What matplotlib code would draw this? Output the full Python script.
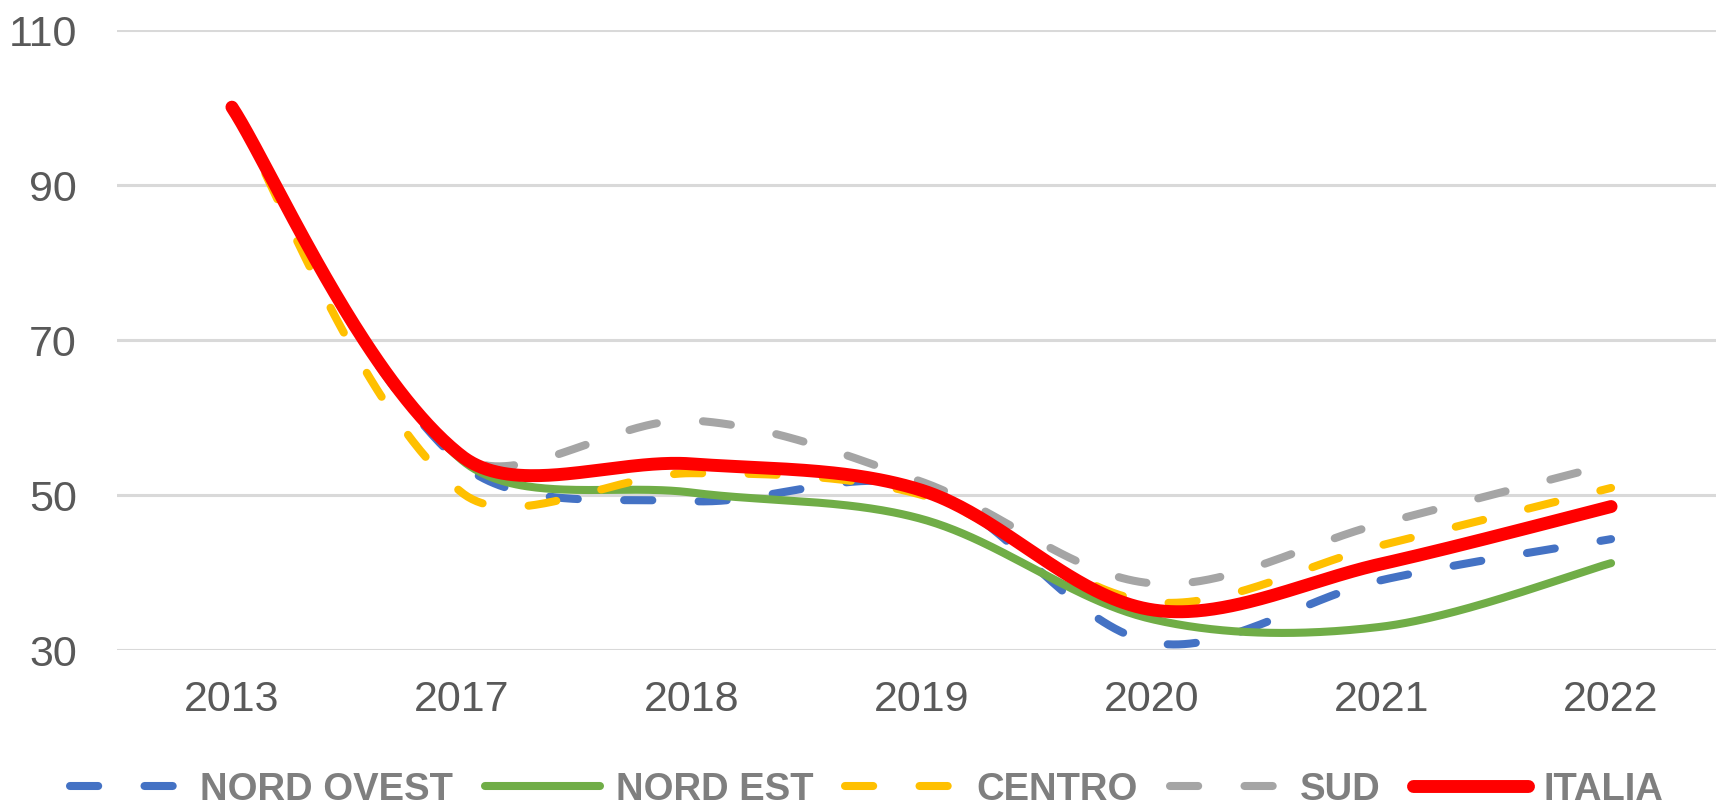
import numpy as np
import matplotlib
matplotlib.use("Agg")
import matplotlib.pyplot as plt

# ---- data ----
years = ["2013", "2017", "2018", "2019", "2020", "2021", "2022"]
nord_ovest = [100, 54.0, 49.2, 51.0, 31.0, 39.0, 44.3]
nord_est = [100, 54.5, 50.3, 46.9, 34.0, 33.0, 41.2]
centro = [100, 50.3, 52.8, 50.0, 36.2, 43.5, 50.9]
sud = [100, 55.0, 59.6, 51.7, 38.6, 46.3, 54.0]
italia = [100, 55.0, 54.0, 50.6, 35.2, 41.1, 48.5]

labels = ["NORD OVEST", "NORD EST", "CENTRO", "SUD", "ITALIA"]
colors = ["#4472C4", "#70AD47", "#FFC000", "#A5A5A5", "#FF0000"]
series = [nord_ovest, nord_est, centro, sud, italia]
dashed = [True, False, True, True, False]

W, H, DPI = 1716, 812, 100
fig = plt.figure(figsize=(W / DPI, H / DPI), dpi=DPI)
ax_left, ax_right = 117, 1726
ax_top, ax_bot = 30.6, 651
ax = fig.add_axes([ax_left / W, (H - ax_bot) / H, (ax_right - ax_left) / W, (ax_bot - ax_top) / H])

ymin, ymax = 30, 110
ax.set_xlim(-0.5, len(years) - 0.5)
ax.set_ylim(ymin, ymax)

# pixel scale for screen-space smoothing
sx = (ax_right - ax_left) / len(years)
sy = (ax_bot - ax_top) / (ymax - ymin)


def smooth(xv, yv, n=80):
    P = np.column_stack([np.asarray(xv, float) * sx, np.asarray(yv, float) * sy])
    m = len(P)
    out = []
    t = np.linspace(0, 1, n)[:, None]
    for i in range(m - 1):
        p1, p2 = P[i], P[i + 1]
        d12 = np.linalg.norm(p2 - p1)
        if i > 0:
            p0 = P[i - 1]
            d01 = np.linalg.norm(p1 - p0)
            c1 = p1 + (p2 - p0) * (1 / 3) * d12 / (d01 + d12)
        else:
            c1 = p1 + (p2 - p1) / 6
        if i < m - 2:
            p3 = P[i + 2]
            d23 = np.linalg.norm(p3 - p2)
            c2 = p2 - (p3 - p1) * (1 / 3) * d12 / (d12 + d23)
        else:
            c2 = p2 - (p2 - p1) / 6
        b = ((1 - t) ** 3) * p1 + 3 * ((1 - t) ** 2) * t * c1 + 3 * (1 - t) * t ** 2 * c2 + t ** 3 * p2
        out.append(b if i == 0 else b[1:])
    B = np.vstack(out)
    return B[:, 0] / sx, B[:, 1] / sy


xi = np.arange(len(years))
handles = []
for k, (vals, lab, col, dsh) in enumerate(zip(series, labels, colors, dashed)):
    lw = 9.3 if lab == "ITALIA" else 5.8
    xs, ys = smooth(xi, vals)
    kw = dict(color=col, lw=lw, solid_capstyle="round", dash_capstyle="round",
              zorder=3 + k, clip_on=False)
    if dsh:
        line, = ax.plot(xs, ys, linestyle=(0, (3.5, 5.75)), **kw)
    else:
        line, = ax.plot(xs, ys, **kw)
    handles.append(line)

ax.set_xticks(xi)
ax.set_xticklabels(years)
ax.set_yticks(np.arange(30, 111, 20))
for s in ax.spines.values():
    s.set_visible(False)
ax.grid(axis="y", color="#D9D9D9", lw=2.2, zorder=0)
ax.set_axisbelow(True)
ax.tick_params(axis="both", length=0, labelsize=31, labelcolor="#595959")
ax.tick_params(axis="y", pad=29)
ax.tick_params(axis="x", pad=21)
for lbl in ax.get_xticklabels() + ax.get_yticklabels():
    lbl.set_fontfamily("Liberation Sans")

fig.legend(handles, labels, loc="center", bbox_to_anchor=(0.505, 0.027), ncol=5,
           frameon=False, handlelength=3.0, handletextpad=0.42, columnspacing=0.84,
           borderpad=0, labelcolor="#7F7F7F",
           prop={"family": "Liberation Sans", "weight": "bold", "size": 27.5})

fig.savefig("out.png", dpi=DPI)
